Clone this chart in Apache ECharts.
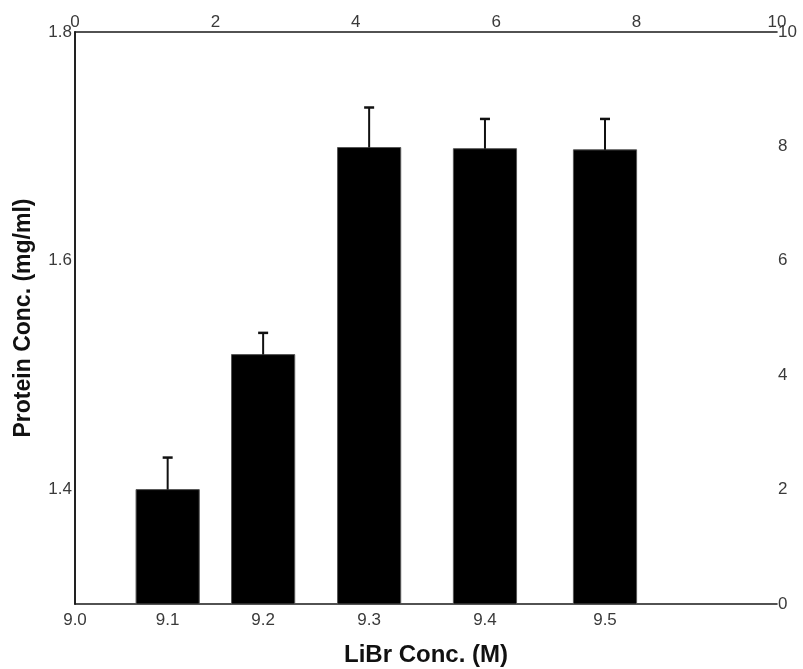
<!DOCTYPE html>
<html>
<head>
<meta charset="utf-8">
<script src="https://cdn.jsdelivr.net/npm/echarts@6/dist/echarts.min.js"></script>
<style>
  html, body { margin: 0; padding: 0; background: #fff; }
  #chart { width: 803px; height: 669px; }
</style>
</head>
<body>
<div id="chart"></div>
<script>
// LiBr concentration categories and where each one sits on the 0-10 frame scale
const concLabels = ['9.0', '9.1', '9.2', '9.3', '9.4', '9.5'];
const concPos = [0, 1.32, 2.68, 4.19, 5.84, 7.55];

// Protein concentration (mg/ml) for 9.1 ... 9.5 M, with upper error
const proteinConc = [1.400, 1.518, 1.699, 1.698, 1.697];
const proteinErr = [0.028, 0.019, 0.035, 0.026, 0.027];

// Tick values for the axes
const leftTicks = [1.4, 1.6, 1.8];
const frameTicks = [0, 2, 4, 6, 8, 10];

const Y_MIN = 1.3, Y_MAX = 1.8;
const BAR_WIDTH = 0.9;   // in frame-scale units

const barData = proteinConc.map((v, i) => [concPos[i + 1], v]);
const errData = proteinConc.map((v, i) => [concPos[i + 1], v, v + proteinErr[i]]);

const FONT = '"Liberation Sans", Arial, sans-serif';
const tickLabel = { color: '#3a3a3a', fontSize: 17, fontFamily: FONT };
const axisLine = { show: true, lineStyle: { color: '#1a1a1a', width: 1.6 } };

const chart = echarts.init(document.getElementById('chart'));
chart.setOption({
  animation: false,
  backgroundColor: '#fff',
  grid: { left: 75, right: 26, top: 32, bottom: 65, containLabel: false, outerBoundsMode: 'none' },
  xAxis: [
    {
      type: 'value', position: 'bottom', min: 0, max: 10,
      axisLine: axisLine, axisTick: { show: false }, splitLine: { show: false },
      axisLabel: Object.assign({}, tickLabel, {
        margin: 8,
        customValues: concPos,
        formatter: function (val) {
          const i = concPos.indexOf(val);
          return i >= 0 ? concLabels[i] : '';
        }
      }),
      name: 'LiBr Conc. (M)', nameLocation: 'middle', nameGap: 39,
      nameTextStyle: { fontSize: 24, fontWeight: 'bold', color: '#111', fontFamily: FONT }
    },
    {
      type: 'value', position: 'top', min: 0, max: 10, interval: 2,
      axisLine: axisLine, axisTick: { show: false }, splitLine: { show: false },
      axisLabel: Object.assign({}, tickLabel, { margin: 1,
        formatter: v => frameTicks.indexOf(v) >= 0 ? String(v) : '' })
    }
  ],
  yAxis: [
    {
      type: 'value', position: 'left', min: Y_MIN, max: Y_MAX, interval: 0.1,
      axisLine: axisLine, axisTick: { show: false }, splitLine: { show: false },
      axisLabel: Object.assign({}, tickLabel, {
        margin: 3,
        formatter: v => {
          const hit = leftTicks.find(t => Math.abs(t - v) < 1e-6);
          return hit !== undefined ? hit.toFixed(1) : '';
        }
      }),
      name: 'Protein Conc. (mg/ml)', nameLocation: 'middle', nameGap: 40,
      nameTextStyle: { fontSize: 23, fontWeight: 'bold', color: '#111', fontFamily: FONT }
    },
    {
      type: 'value', position: 'right', min: 0, max: 10, interval: 2,
      axisLine: axisLine, axisTick: { show: false }, splitLine: { show: false },
      axisLabel: Object.assign({}, tickLabel, { margin: 1 })
    }
  ],
  series: [
    {
      type: 'custom', name: 'protein', xAxisIndex: 0, yAxisIndex: 0,
      data: barData,
      renderItem: function (params, api) {
        const x = api.value(0), y = api.value(1);
        const top = api.coord([x, y]);
        const base = api.coord([x, Y_MIN]);
        const w = api.size([BAR_WIDTH, 0])[0];
        return {
          type: 'rect',
          shape: { x: top[0] - w / 2, y: top[1], width: w, height: base[1] - top[1] },
          style: { fill: '#000', stroke: '#555', lineWidth: 1 }
        };
      }
    },
    {
      type: 'custom', name: 'error', xAxisIndex: 0, yAxisIndex: 0,
      data: errData,
      renderItem: function (params, api) {
        const x = api.value(0);
        const lo = api.coord([x, api.value(1)]);
        const hi = api.coord([x, api.value(2)]);
        const cap = 5;
        return {
          type: 'group',
          children: [
            { type: 'line', shape: { x1: lo[0], y1: lo[1], x2: hi[0], y2: hi[1] },
              style: { stroke: '#111', lineWidth: 2 } },
            { type: 'line', shape: { x1: hi[0] - cap, y1: hi[1], x2: hi[0] + cap, y2: hi[1] },
              style: { stroke: '#111', lineWidth: 2.5 } }
          ]
        };
      }
    }
  ]
});
</script>
</body>
</html>
